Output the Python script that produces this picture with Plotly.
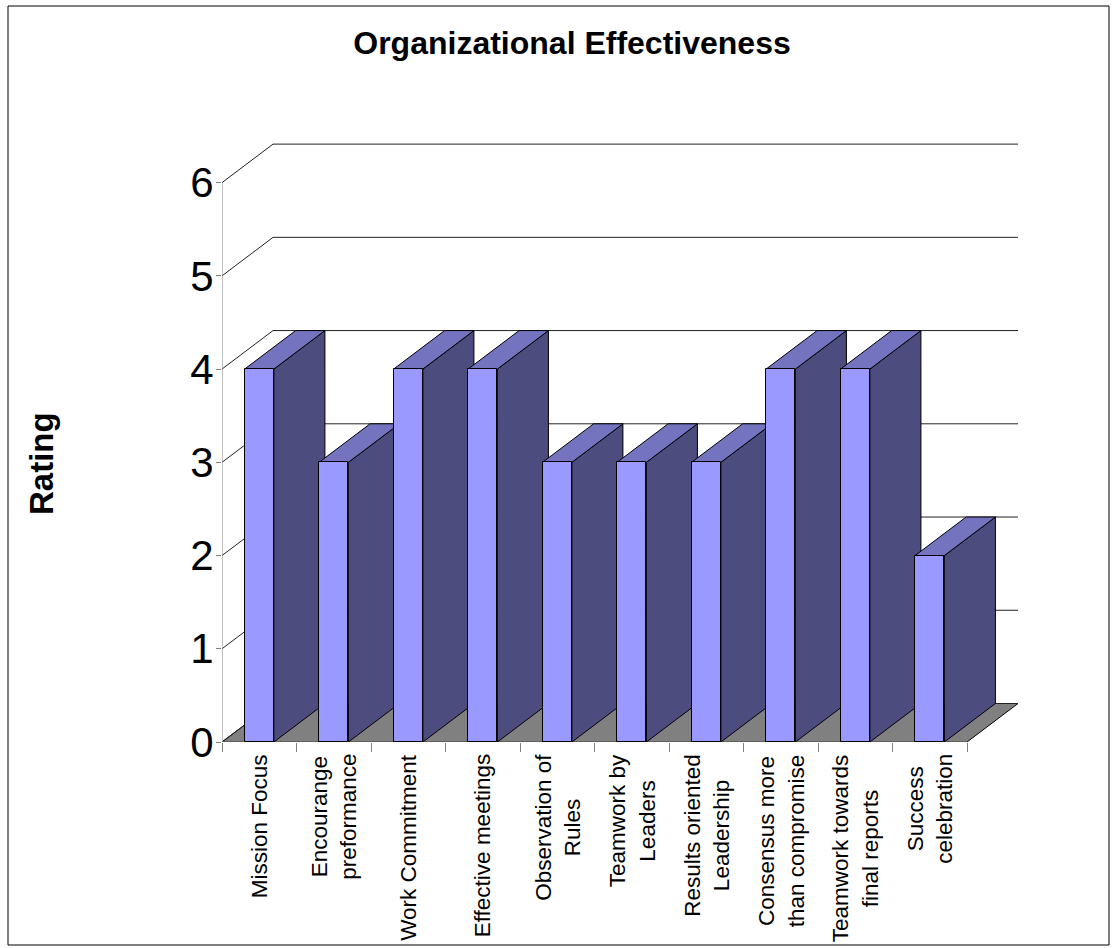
import plotly.graph_objects as go

# ---- data ----
CATEGORIES = [
    "Mission Focus",
    "Encourange<br>preformance",
    "Work Commitment",
    "Effective meetings",
    "Observation of<br>Rules",
    "Teamwork by<br>Leaders",
    "Results oriented<br>Leadership",
    "Consensus more<br>than compromise",
    "Teamwork towards<br>final reports",
    "Success<br>celebration",
]
RATINGS = [4, 3, 4, 4, 3, 3, 3, 4, 4, 2]
Y_TICKS = [0, 1, 2, 3, 4, 5, 6]
TITLE = "Organizational Effectiveness"
Y_TITLE = "Rating"

# ---- styling / geometry ----
FONT = "Liberation Sans, Arial, sans-serif"
FRONT = "#9999FF"
SIDE = "#4C4C7F"
TOP = "#7373BF"
FLOOR = "#808080"
AXIS = "#808080"
GRID = "#222222"

W, H = 1112, 948
ML, MR, MT, MB = 222, 92, 136, 206
PW, PH = W - ML - MR, H - MT - MB
SLOT_PX = 74.5
X0 = -0.5
X_RANGE = [X0, X0 + PW / SLOT_PX]
Y_RANGE = [0, 6.5]

BAR_W = 0.393          # width of a bar's front face (category units)
DX, DY = 0.685, 0.413  # depth offset of the 3-D box (data units)

n = len(CATEGORIES)
xs = list(range(n))
x_end = X0 + n


def poly(points, fill, line="black", width=1):
    d = "M " + " L ".join(f"{px},{py}" for px, py in points) + " Z"
    return dict(type="path", path=d, xref="x", yref="y", layer="below",
                fillcolor=fill, line=dict(color=line, width=width))


def seg(points, color, width=1):
    d = "M " + " L ".join(f"{px},{py}" for px, py in points)
    return dict(type="path", path=d, xref="x", yref="y", layer="below",
                line=dict(color=color, width=width))


shapes = []
# floor
shapes.append(poly([(X0, 0), (x_end, 0), (x_end + DX, DY), (X0 + DX, DY)], FLOOR))
# back-wall gridlines
for v in Y_TICKS:
    shapes.append(seg([(X0, v), (X0 + DX, v + DY), (x_end + DX, v + DY)], GRID))
# axis lines
shapes.append(seg([(X0, 0), (X0, max(Y_TICKS))], AXIS))
shapes.append(seg([(X0, 0), (x_end, 0)], AXIS))
# side and top faces of each bar, left to right
for x, v in zip(xs, RATINGS):
    xl, xr = x - BAR_W / 2, x + BAR_W / 2
    shapes.append(poly([(xr, 0), (xr, v), (xr + DX, v + DY), (xr + DX, DY)], SIDE))
    shapes.append(poly([(xl, v), (xr, v), (xr + DX, v + DY), (xl + DX, v + DY)], TOP))


# outer frame of the chart (paper coordinates from pixels)
def px_x(p):
    return (p - ML) / PW


def px_y(p):
    return (H - MB - p) / PH


shapes.append(dict(type="rect", xref="paper", yref="paper",
                   x0=px_x(8), x1=px_x(1109), y0=px_y(945), y1=px_y(6),
                   line=dict(color="black", width=1), layer="above"))

fig = go.Figure()
fig.add_trace(go.Bar(
    x=xs, y=RATINGS, width=BAR_W,
    marker=dict(color=FRONT, line=dict(color="black", width=1)),
    hovertext=[c.replace("<br>", " ") for c in CATEGORIES],
    hoverinfo="text+y",
    showlegend=False,
))

annotations = []
for x, label in zip(xs, CATEGORIES):
    annotations.append(dict(
        x=x, y=0, xref="x", yref="y", text=label, showarrow=False,
        textangle=-90, xanchor="center", yanchor="top", yshift=-10,
        align="center", font=dict(family=FONT, size=22.5, color="black"),
    ))
annotations.append(dict(
    x=px_x(41), y=px_y(464), xref="paper", yref="paper", text=f"<b>{Y_TITLE}</b>",
    showarrow=False, textangle=-90, xanchor="center", yanchor="middle",
    font=dict(family=FONT, size=33, color="black"),
))

fig.update_layout(
    width=W, height=H,
    margin=dict(l=ML, r=MR, t=MT, b=MB),
    paper_bgcolor="white", plot_bgcolor="white",
    title=dict(text=f"<b>{TITLE}</b>", x=572 / W, xanchor="center",
               y=1 - 43 / H, yanchor="middle",
               font=dict(family=FONT, size=32, color="black")),
    xaxis=dict(range=X_RANGE, tickmode="array",
               tickvals=[X0 + k for k in range(n + 1)],
               showticklabels=False, ticks="outside", ticklen=9,
               tickcolor=AXIS, tickwidth=1, showgrid=False, zeroline=False,
               showline=False, fixedrange=True),
    yaxis=dict(range=Y_RANGE, tickmode="array", tickvals=Y_TICKS,
               ticks="outside", ticklen=5, tickcolor=AXIS, tickwidth=1,
               tickfont=dict(family=FONT, size=42, color="black"),
               ticklabelstandoff=-6,
               showgrid=False, zeroline=False, showline=False, fixedrange=True),
    shapes=shapes,
    annotations=annotations,
    bargap=0,
)

fig.write_html("out.html")
